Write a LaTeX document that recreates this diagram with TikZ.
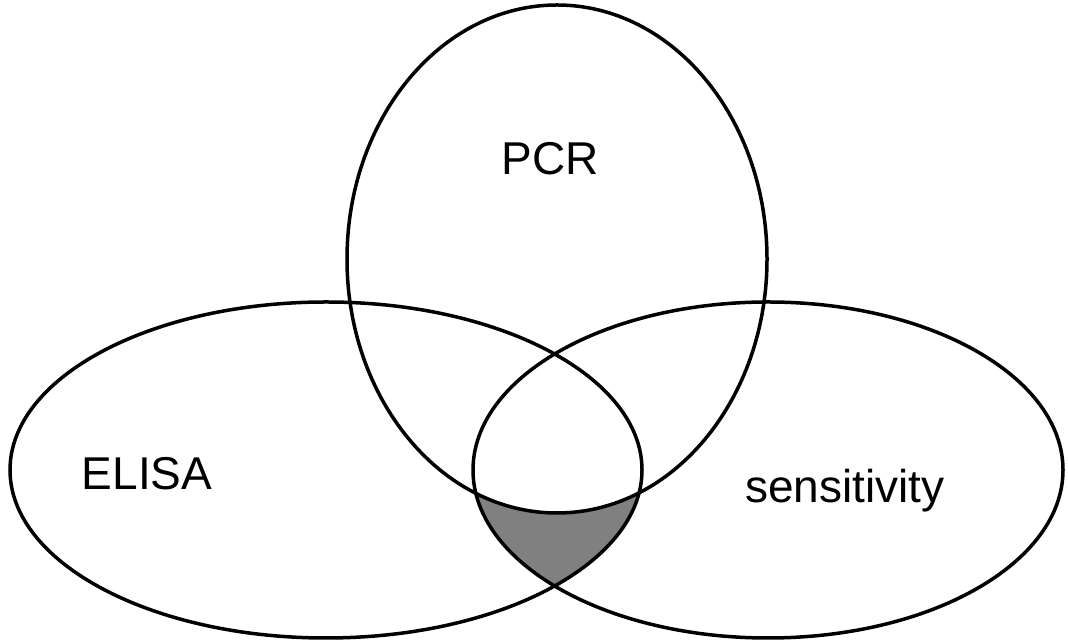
\documentclass[tikz,border=0pt]{standalone}
\usepackage{fontspec}
\setmainfont{Liberation Sans}
\begin{document}
\begin{tikzpicture}[x=1pt,y=1pt,
  setline/.style={line width=3.5pt,draw=black},
  lbl/.style={font=\fontsize{46}{50}\selectfont,inner sep=0pt,anchor=base}]
\useasboundingbox[fill=white] (0,0) rectangle (1068,644);
\def\elisapath{(326,174) ellipse [x radius=316, y radius=168]}
\def\senspath{(768,174) ellipse [x radius=295, y radius=168]}
\def\pcrpath{(557,385) ellipse [x radius=210, y radius=254]}
\begin{scope}
  \clip \elisapath;
  \clip \senspath;
  \fill[fill={rgb,255:red,128;green,128;blue,128}, even odd rule] (0,0) rectangle (1068,644) \pcrpath;
\end{scope}
\draw[setline] \elisapath;
\draw[setline] \senspath;
\draw[setline] \pcrpath;
\node[lbl] (pcr) at (550,469) {PCR};
\node[lbl] (elisa) at (147,154) {ELISA};
\node[lbl] (sens) at (845,141) {sensitivity};
\end{tikzpicture}
\end{document}
